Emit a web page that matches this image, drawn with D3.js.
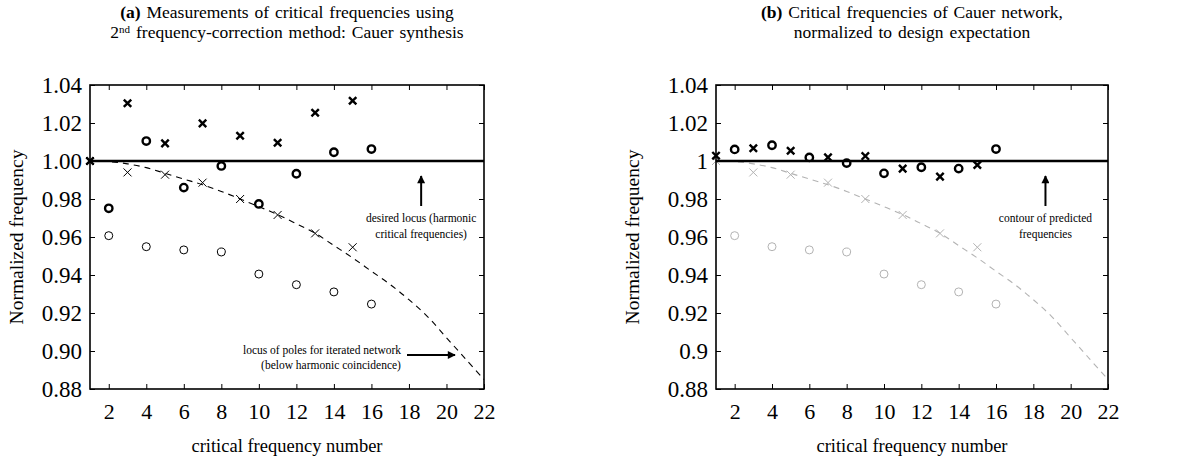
<!DOCTYPE html>
<html>
<head>
<meta charset="utf-8">
<script src="https://cdn.jsdelivr.net/npm/d3@7"></script>
<style>
  body { margin: 0; background: #fff; }
  svg text { font-family: "Liberation Serif", serif; fill: #000; }
</style>
</head>
<body>
<svg id="chart" width="1202" height="459"></svg>
<script>
// critical frequency numbers
const oddN = [1, 3, 5, 7, 9, 11, 13, 15];
const evenN = [2, 4, 6, 8, 10, 12, 14, 16];

// (a) measured, 2nd correction (bold markers)
const measOddA = [1.000, 1.0304, 1.0093, 1.0198, 1.0133, 1.0096, 1.0254, 1.0317];
const measEvenA = [0.9751, 1.0105, 0.9860, 0.9974, 0.9774, 0.9933, 1.0046, 1.0063];

// iterated network poles / zeros (thin markers, grey in b)
const predOdd = [1.000, 0.9940, 0.9928, 0.9886, 0.9800, 0.9716, 0.9619, 0.9546];
const predEven = [0.9607, 0.9549, 0.9532, 0.9521, 0.9405, 0.9349, 0.9311, 0.9247];

// (b) Cauer network normalized to design expectation
const measOddB = [1.0028, 1.0067, 1.0054, 1.0019, 1.0026, 0.9960, 0.9918, 0.9979];
const measEvenB = [1.0061, 1.0083, 1.0019, 0.9989, 0.9935, 0.9967, 0.9960, 1.0063];

// dashed locus
const curveN = [1, 2, 3, 4, 5, 6, 7, 8, 9, 10, 11, 12, 13, 14, 15, 16, 17, 18, 19, 20, 21, 22];
const curveVal = [1.000, 0.9997, 0.9985, 0.9965, 0.9935, 0.9905, 0.9875, 0.984, 0.980, 0.976, 0.9718,
                  0.967, 0.962, 0.9555, 0.949, 0.942, 0.935, 0.927, 0.918, 0.907, 0.896, 0.885];

const xTicks = [2, 4, 6, 8, 10, 12, 14, 16, 18, 20, 22];
const yTicks = [0.88, 0.90, 0.92, 0.94, 0.96, 0.98, 1.00, 1.02, 1.04];
const yLabelsA = ["0.88", "0.90", "0.92", "0.94", "0.96", "0.98", "1.00", "1.02", "1.04"];
const yLabelsB = ["0.88", "0.9", "0.92", "0.94", "0.96", "0.98", "1", "1.02", "1.04"];

const svg = d3.select("#chart");
const plotTop = 85, plotBottom = 389;

function crossPath(s) {
    return `M${-s},${-s}L${s},${s}M${-s},${s}L${s},${-s}`;
}

function drawPanel(opt) {
    const g = svg.append("g");
    const x = d3.scaleLinear().domain([1, 22]).range([opt.left, opt.right]);
    const y = d3.scaleLinear().domain([0.88, 1.04]).range([plotBottom, plotTop]);

    // ticks (inward on all sides)
    const bAxis = g.append("g").attr("transform", `translate(0,${plotBottom})`)
        .call(d3.axisBottom(x).tickValues(xTicks).tickSize(-5).tickPadding(14).tickFormat(d3.format("d")));
    g.append("g").attr("transform", `translate(0,${plotTop})`)
        .call(d3.axisTop(x).tickValues(xTicks).tickSize(-5).tickFormat(""));
    const lAxis = g.append("g").attr("transform", `translate(${opt.left},0)`)
        .call(d3.axisLeft(y).tickValues(yTicks).tickSize(-5).tickPadding(8)
            .tickFormat((d, i) => opt.yLabels[i]));
    g.append("g").attr("transform", `translate(${opt.right},0)`)
        .call(d3.axisRight(y).tickValues(yTicks).tickSize(-5).tickFormat(""));
    g.selectAll(".domain").remove();
    g.selectAll(".tick line").attr("stroke", "#000").attr("stroke-width", 1);
    bAxis.selectAll("text").attr("font-size", 22);
    lAxis.selectAll("text").attr("font-size", 23);

    // dashed locus
    g.append("path")
        .datum(curveN.map((n, i) => [n, curveVal[i]]))
        .attr("fill", "none")
        .attr("stroke", opt.thinColor)
        .attr("stroke-width", 1.1)
        .attr("stroke-dasharray", "6,5")
        .attr("d", d3.line().x(d => x(d[0])).y(d => y(d[1])).curve(d3.curveCatmullRom));

    // thin markers
    g.selectAll(".po").data(evenN).join("circle")
        .attr("cx", d => x(d)).attr("cy", (d, i) => y(predEven[i])).attr("r", 4)
        .attr("fill", "none").attr("stroke", opt.thinColor).attr("stroke-width", 1);
    g.selectAll(".px").data(oddN).join("path")
        .attr("transform", (d, i) => `translate(${x(d)},${y(predOdd[i])})`)
        .attr("d", crossPath(4))
        .attr("fill", "none").attr("stroke", opt.thinColor).attr("stroke-width", 1);

    // reference line at 1
    g.append("line")
        .attr("x1", opt.left).attr("x2", opt.right)
        .attr("y1", y(1)).attr("y2", y(1))
        .attr("stroke", "#000").attr("stroke-width", 2.5);

    // bold markers
    g.selectAll(".mo").data(evenN).join("circle")
        .attr("cx", d => x(d)).attr("cy", (d, i) => y(opt.measEven[i])).attr("r", 3.7)
        .attr("fill", "none").attr("stroke", "#000").attr("stroke-width", 2.4);
    g.selectAll(".mx").data(oddN).join("path")
        .attr("transform", (d, i) => `translate(${x(d)},${y(opt.measOdd[i])})`)
        .attr("d", crossPath(3.7))
        .attr("fill", "none").attr("stroke", "#000").attr("stroke-width", 2.4);

    // frame
    g.append("rect")
        .attr("x", opt.left).attr("y", plotTop)
        .attr("width", opt.right - opt.left).attr("height", plotBottom - plotTop)
        .attr("fill", "none").attr("stroke", "#000").attr("stroke-width", 1.6);

    // titles
    const cx = (opt.left + opt.right) / 2;
    const t1 = g.append("text").attr("x", cx).attr("y", 18).attr("text-anchor", "middle")
        .attr("font-size", 17.5).attr("word-spacing", 1.5);
    t1.append("tspan").attr("font-weight", "bold").text(opt.tag);
    t1.append("tspan").text(opt.title1);
    const t2 = g.append("text").attr("x", cx).attr("y", 38).attr("text-anchor", "middle")
        .attr("font-size", 17.5).attr("word-spacing", 1.5);
    opt.title2(t2);

    // axis titles
    g.append("text").attr("x", cx).attr("y", 452).attr("text-anchor", "middle")
        .attr("font-size", 18.5).text("critical frequency number");
    g.append("text")
        .attr("transform", `translate(${opt.yLabelX},${(plotTop + plotBottom) / 2}) rotate(-90)`)
        .attr("text-anchor", "middle").attr("dominant-baseline", "middle")
        .attr("font-size", 19.5).text("Normalized frequency");

    return { g, x, y };
}

svg.append("defs").append("marker")
    .attr("id", "head").attr("viewBox", "0 0 10 10")
    .attr("refX", 9).attr("refY", 5)
    .attr("markerWidth", 6).attr("markerHeight", 4)
    .attr("markerUnits", "strokeWidth")
    .attr("orient", "auto")
    .append("path").attr("d", "M0,0L10,5L0,10z").attr("fill", "#000");

function arrow(g, x1, y1, x2, y2) {
    g.append("line")
        .attr("x1", x1).attr("y1", y1).attr("x2", x2).attr("y2", y2)
        .attr("stroke", "#000").attr("stroke-width", 2).attr("marker-end", "url(#head)");
}

function note(g, cx, y0, lines) {
    lines.forEach((s, i) => {
        g.append("text").attr("x", cx).attr("y", y0 + i * 16)
            .attr("text-anchor", "middle").attr("font-size", 11.5).text(s);
    });
}

// panel (a)
const a = drawPanel({
    left: 90, right: 484,
    measOdd: measOddA, measEven: measEvenA,
    thinColor: "#000",
    yLabels: yLabelsA,
    yLabelX: 19,
    tag: "(a)",
    title1: " Measurements of critical frequencies using",
    title2: t => {
        t.append("tspan").text("2");
        t.append("tspan").attr("dy", -5.5).attr("font-size", 11).text("nd");
        t.append("tspan").attr("dy", 5.5).text(" frequency-correction method: Cauer synthesis");
    }
});
arrow(a.g, a.x(18.65), 206, a.x(18.65), 176);
note(a.g, a.x(18.65), 222, ["desired locus (harmonic", "critical frequencies)"]);
arrow(a.g, 407, 355, 455, 355);
note(a.g, 322, 354, ["locus of poles for iterated network"]);
note(a.g, 331, 369, ["(below harmonic coincidence)"]);

// panel (b)
const b = drawPanel({
    left: 716, right: 1108,
    measOdd: measOddB, measEven: measEvenB,
    thinColor: "#b3b3b3",
    yLabels: yLabelsB,
    yLabelX: 635,
    tag: "(b)",
    title1: " Critical frequencies of Cauer network,",
    title2: t => t.text("normalized to design expectation")
});
arrow(b.g, b.x(18.65), 206, b.x(18.65), 176);
note(b.g, b.x(18.65), 222, ["contour of predicted", "frequencies"]);
</script>
</body>
</html>
